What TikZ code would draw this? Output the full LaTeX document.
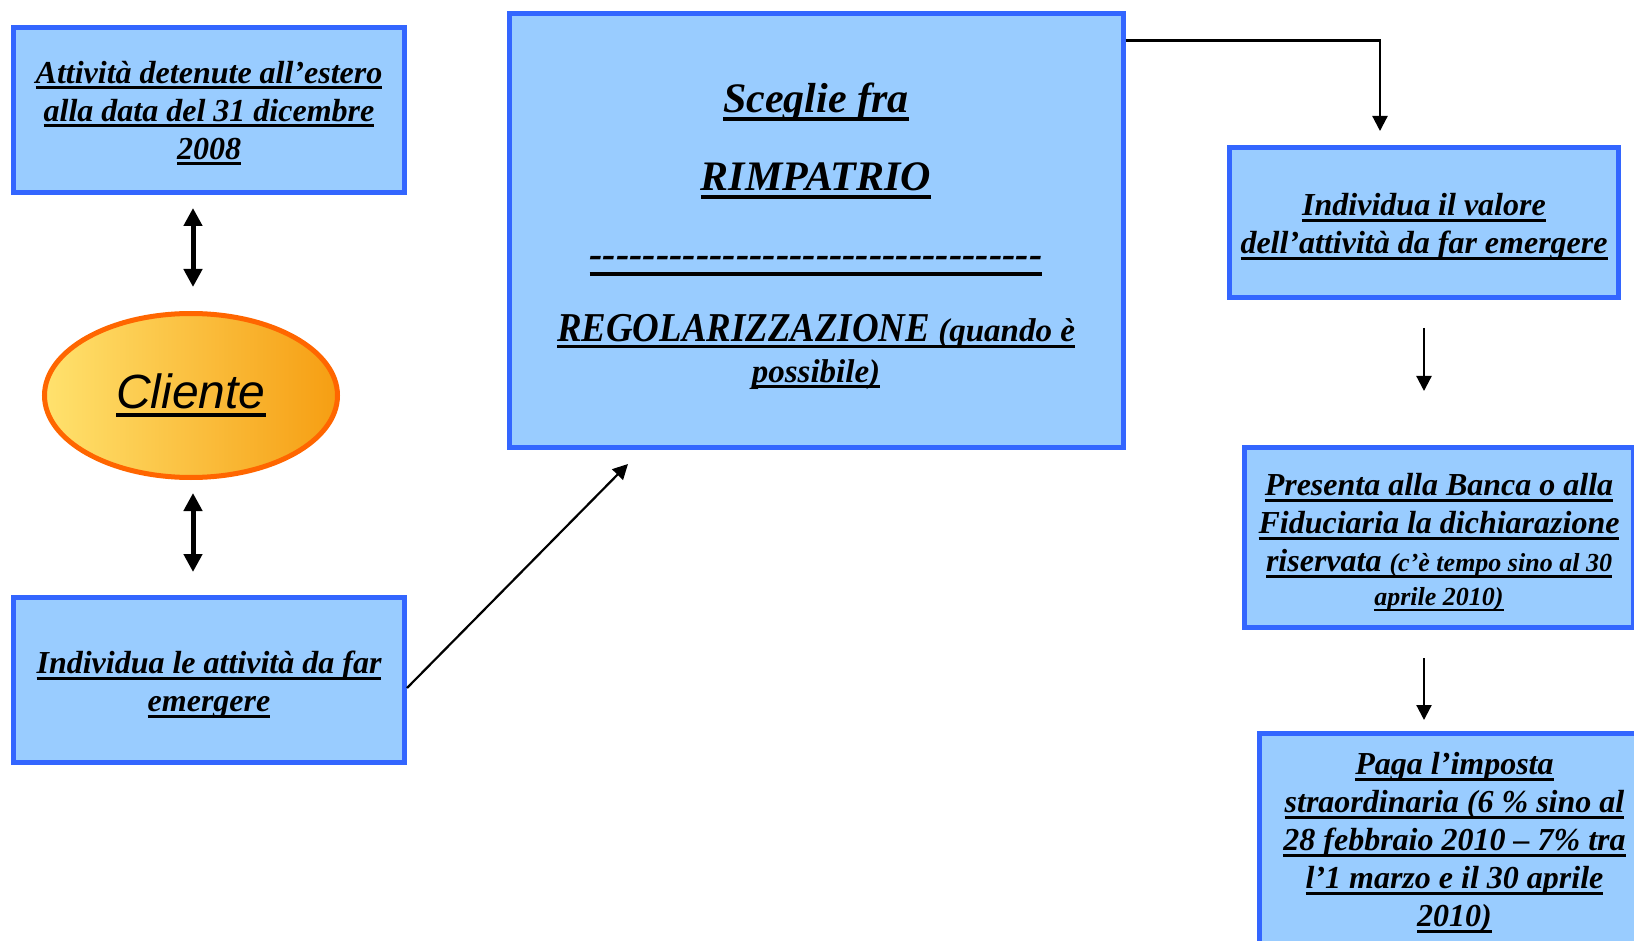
\documentclass[tikz,border=0pt]{standalone}
\usepackage{fontspec}
\newfontfamily\tnr{Liberation Serif}
\newfontfamily\tnrc{Liberation Serif}[FakeStretch=0.9]
\newfontfamily\arl{Liberation Sans}
\usetikzlibrary{arrows.meta,shapes.geometric}
\definecolor{boxblue}{RGB}{51,102,255}
\definecolor{boxfill}{RGB}{153,204,255}
\definecolor{orangeb}{RGB}{255,102,0}
\definecolor{yel}{RGB}{255,226,110}
\definecolor{org}{RGB}{246,158,18}
\newcommand\myul[1]{\setbox0=\hbox{#1}\leavevmode\rlap{\rule[-0.19em]{\wd0}{0.085em}}\box0}
\newcommand\hyf{\mbox{-}\mbox{-}\mbox{-}\mbox{-}\mbox{-}}
\tikzset{
  bluebox/.style={rectangle, draw=boxblue, fill=boxfill, line width=5pt, inner sep=0pt},
  btext/.style={inner sep=0pt, align=center, font=\tnr\bfseries\itshape\fontsize{32}{38}\selectfont},
  ctext/.style={anchor=base, inner sep=0pt, align=center},
  dbl/.style={line width=5pt, {Triangle[width=18pt,length=18pt]}-{Triangle[width=18pt,length=18pt]}},
  conn/.style={line width=2.2pt, -{Triangle[width=15pt,length=15pt]}},
}
\begin{document}
\begin{tikzpicture}[x=1pt,y=-1pt]
\path[use as bounding box] (0,0) rectangle (1634,941);
\clip (0,0) rectangle (1634,941);
\fill[white] (0,0) rectangle (1634,941);

% left column
\node[bluebox, minimum width=391pt, minimum height=165pt] (attivita) at (209,110) {};
\node[btext] (attivita-t) at ([yshift=-3pt]attivita.center)
  {\myul{Attività detenute all’estero}\\ \myul{alla data del 31 dicembre}\\ \myul{2008}};
\node[ellipse, draw=orangeb, line width=5pt, left color=yel, right color=org,
  minimum width=293pt, minimum height=164pt, inner sep=0pt,
  font=\arl\itshape\fontsize{48}{56}\selectfont] (cliente) at (191,395.5) {\myul{Cliente}};
\node[bluebox, minimum width=391pt, minimum height=165pt] (individua) at (209,680) {};
\node[btext] (individua-t) at ([yshift=-5pt]individua.center)
  {\myul{Individua le attività da far}\\ \myul{emergere}};

\coordinate (d1a) at (193,208);
\coordinate (d1b) at (193,287);
\coordinate (d2a) at (193,493);
\coordinate (d2b) at (193,572);
\draw[dbl] (d1a) -- (d1b);
\draw[dbl] (d2a) -- (d2b);

% central box
\node[bluebox, minimum width=614pt, minimum height=433pt] (central) at (816,230.5) {};
\node[ctext, font=\tnr\bfseries\itshape\fontsize{42}{48}\selectfont] (sceglie) at (816,113) {\myul{Sceglie fra}};
\node[ctext, font=\tnr\bfseries\itshape\fontsize{42}{48}\selectfont] (rimpatrio) at (816,191) {\myul{RIMPATRIO}};
\node[ctext, font=\tnr\bfseries\itshape\fontsize{40}{48}\selectfont] (dashes) at (816,268)
  {\myul{\hyf\hyf\hyf\hyf\hyf\hyf\mbox{-}\mbox{-}\mbox{-}\mbox{-}}};
\node[ctext, font=\tnr\bfseries\itshape\fontsize{33}{40}\selectfont] (regol) at (816,342)
  {\myul{{\tnrc\fontsize{41}{48}\selectfont REGOLARIZZAZIONE} (quando è}};
\node[ctext, font=\tnr\bfseries\itshape\fontsize{33}{40}\selectfont] (possibile) at (816,382)
  {\myul{possibile)}};

% right column
\node[bluebox, minimum width=389pt, minimum height=150pt] (valore) at (1424,223) {};
\node[btext] (valore-t) at ([yshift=-4pt]valore.center)
  {\myul{Individua il valore}\\ \myul{dell’attività da far emergere}};
\node[bluebox, minimum width=389pt, minimum height=180pt] (presenta) at (1439,537.5) {};
\node[btext] (presenta-t) at ([yshift=-5pt]presenta.center)
  {\myul{Presenta alla Banca o alla}\\ \myul{Fiduciaria la dichiarazione}\\
   \myul{riservata {\fontsize{26}{30}\selectfont (c’è tempo sino al 30}}\\[-4pt]
   {\fontsize{26}{30}\selectfont\myul{aprile 2010)}}};
\node[bluebox, minimum width=390pt, minimum height=213pt] (paga) at (1454.5,840) {};
\node[btext] (paga-t) at ([yshift=-3pt]paga.center)
  {\myul{Paga l’imposta}\\ \myul{straordinaria (6 \% sino al}\\ \myul{28 febbraio 2010 – 7\% tra}\\
   \myul{l’1 marzo e il 30 aprile}\\ \myul{2010)}};

% connectors
\coordinate (diagEnd) at (628,464);
\draw[conn] ([yshift=-8pt]individua.east) -- (diagEnd);
\coordinate (topEnd) at (1380,131);
\draw[conn] ([yshift=-29pt]central.north east) -| (topEnd);
\coordinate (v1) at (1424,328);
\coordinate (v2) at (1424,391);
\draw[conn] (v1) -- (v2);
\coordinate (p1) at (1424,658);
\coordinate (p2) at (1424,720);
\draw[conn] (p1) -- (p2);
\end{tikzpicture}
\end{document}
